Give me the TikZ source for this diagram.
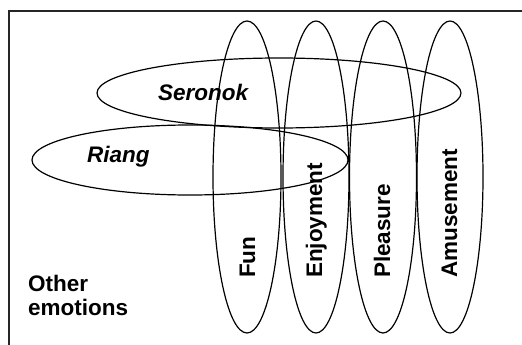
\documentclass[tikz,border=0pt]{standalone}
\usepackage{fontspec}
\setmainfont{Liberation Sans}
\usetikzlibrary{shapes.geometric}

\tikzset{
  emoset/.style={draw, ellipse, line width=1.2pt, inner sep=0pt},
  emolabel/.style={inner sep=0pt, font=\fontsize{22.5}{23.5}\selectfont\bfseries},
  uplabel/.style={emolabel, rotate=90, anchor=base west}
}

\begin{document}
\begin{tikzpicture}[x=1pt,y=-1pt]

\useasboundingbox (0,0) rectangle (522,345);

% outer frame (runs off to the right and bottom)
\draw[line width=1.4pt, black!85] (9,360) -- (9,11) -- (540,11);

% ============================
% HORIZONTAL SETS
% ============================

\node[emoset, minimum width=364, minimum height=70] (seronok) at (279,93) {};
\node[emoset, minimum width=316, minimum height=70] (riang) at (190,160) {};

% ============================
% VERTICAL SETS
% ============================

\node[emoset, minimum width=68, minimum height=312] (fun) at (247,177) {};
\node[emoset, minimum width=66, minimum height=312] (enjoy) at (316,177) {};
\node[emoset, minimum width=67, minimum height=312] (pleasure) at (383,177) {};
\node[emoset, minimum width=66, minimum height=312] (amuse) at (450,177) {};

% ============================
% LABELS
% ============================

\node[emolabel, anchor=base west, font=\fontsize{22.5}{23.5}\selectfont\bfseries\itshape] (seronoktext) at (158,100) {Seronok};
\node[emolabel, anchor=base west, font=\fontsize{22.5}{23.5}\selectfont\bfseries\itshape] (riangtext) at (87,162) {Riang};

\node[uplabel] (funtext) at (255,278) {Fun};
\node[uplabel] (enjoytext) at (322,278) {Enjoyment};
\node[uplabel] (pleasuretext) at (390,278) {Pleasure};
\node[uplabel] (amusetext) at (457,278) {Amusement};

\node[emolabel, anchor=north west, align=left] (othertext) at (28,275) {Other\\emotions};

\end{tikzpicture}
\end{document}
